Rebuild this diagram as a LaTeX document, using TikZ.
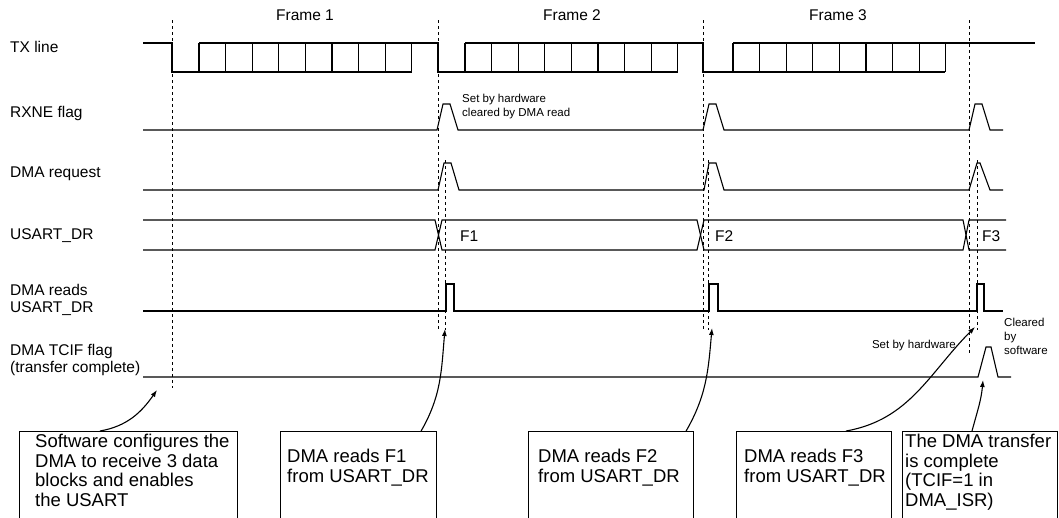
\documentclass[tikz,border=0pt]{standalone}
\usepackage{fontspec}
\setmainfont{Liberation Sans}
\usetikzlibrary{arrows.meta}
\tikzset{sig/.style={line width=1.1pt},
         edgeline/.style={dashed,line width=0.8pt},
         lbl/.style={anchor=west,inner sep=0pt,font=\fontsize{15.5}{17}\selectfont},
         note/.style={inner sep=0pt,font=\fontsize{11.5}{14}\selectfont,align=left},
         box/.style={draw,line width=1.1pt,anchor=north west},
         boxtxt/.style={anchor=north west,inner sep=0pt,align=left,font=\fontsize{18.5}{19.5}\selectfont},
         call/.style={-{Latex[length=7pt,width=5pt]},line width=1.1pt}}
\begin{document}
\begin{tikzpicture}[x=1pt,y=-1pt]
    \useasboundingbox (0,0) rectangle (1059,517);
    % frame titles
    \node[lbl,anchor=center] (f1) at (305,15) {Frame 1};
    \node[lbl,anchor=center] (f2) at (572,15) {Frame 2};
    \node[lbl,anchor=center] (f3) at (838,15) {Frame 3};
    % signal names
    \node[lbl] (tx) at (10,47) {TX line};
    \node[lbl] (rxne) at (10,113) {RXNE flag};
    \node[lbl] (req) at (10,174) {DMA request};
    \node[lbl] (dr) at (10,236) {USART\_DR};
    \node[lbl,align=left] (rd) at (10,300) {DMA reads\\USART\_DR};
    \node[lbl,align=left] (tcif) at (10,360) {DMA TCIF flag\\(transfer complete)};
    % dashed markers
    \draw[edgeline] (172,20) -- (172,388);
    \draw[edgeline] (438,20) -- (438,330);
    \draw[edgeline] (703,20) -- (703,330);
    \draw[edgeline] (969,20) -- (969,355);
    \draw[edgeline] (445,160) -- (445,330);
    \draw[edgeline] (708,160) -- (708,330);
    \draw[edgeline] (977,160) -- (977,330);
    % TX line
    \draw[sig] (143,43) -- (172,43) -- (172,72) -- (412,72);
    \draw[sig] (199,43) -- (438,43) -- (438,72) -- (678,72);
    \draw[sig] (465,43) -- (703,43) -- (703,72) -- (945,72);
    \draw[sig] (733,43) -- (1035,43);
    \foreach \s in {199,465,733}
      \foreach \i in {0,...,8}
        \draw[sig] (\s+26.6*\i,43) -- (\s+26.6*\i,72);
    % RXNE flag
    \draw[sig] (143,130) -- (437,130) -- (443,104) -- (450,104) -- (458,130)
      -- (703,130) -- (709,104) -- (716,104) -- (724,130)
      -- (969,130) -- (975,104) -- (982,104) -- (990,130) -- (1003,130);
    \node[note,anchor=west] (setclr) at (462,107) {Set by hardware\\cleared by DMA read};
    % DMA request
    \draw[sig] (143,190) -- (438,190) -- (444,163) -- (451,163) -- (459,190)
      -- (704,190) -- (709,163) -- (716,163) -- (724,190)
      -- (969,190) -- (977,163) -- (980,163) -- (990,190) -- (1003,190);
    % USART_DR
    \draw[sig] (143,220) -- (435,220) -- (442,250) -- (697,250) -- (704,220)
      -- (963,220) -- (969,250) -- (1006,250);
    \draw[sig] (143,250) -- (435,250) -- (442,220) -- (697,220) -- (704,250)
      -- (963,250) -- (969,220) -- (1006,220);
    \node[lbl] (d1) at (460,236) {F1};
    \node[lbl] (d2) at (715,236) {F2};
    \node[lbl] (d3) at (982,236) {F3};
    % DMA reads USART_DR
    \draw[sig] (143,311) -- (446,311) -- (446,284) -- (454,284) -- (454,311)
      -- (709,311) -- (709,284) -- (718,284) -- (718,311)
      -- (977,311) -- (977,284) -- (984,284) -- (984,311) -- (1003,311);
    \draw[line width=2.5pt] (446,284) -- (454,284) (709,284) -- (718,284) (977,284) -- (984,284);
    % DMA TCIF flag
    \draw[sig] (143,377) -- (978,377) -- (986,347) -- (991,347) -- (998,377) -- (1011,377);
    \node[note,anchor=east] (sethw) at (956,346) {Set by hardware};
    \node[note,anchor=north west] (clrsw) at (1004,318) {Cleared\\by\\software};
    % boxes
    \node[box,minimum width=218,minimum height=110] (b1) at (19,431) {};
    \node[box,minimum width=156,minimum height=110] (b2) at (280,431) {};
    \node[box,minimum width=165,minimum height=110] (b3) at (528,431) {};
    \node[box,minimum width=155,minimum height=110] (b4) at (736,431) {};
    \node[box,minimum width=155,minimum height=110] (b5) at (902,431) {};
    \node[boxtxt] (t1) at (35,434) {Software configures the\\DMA to receive 3 data\\blocks and enables\\the USART};
    \node[boxtxt] (t2) at (287,449) {DMA reads F1\\from USART\_DR};
    \node[boxtxt] (t3) at (538,449) {DMA reads F2\\from USART\_DR};
    \node[boxtxt] (t4) at (744,449) {DMA reads F3\\from USART\_DR};
    \node[boxtxt] (t5) at (905,434) {The DMA transfer\\is complete\\(TCIF=1 in\\DMA\_ISR)};
    % call-outs
    \coordinate (p1) at (157,390);
    \coordinate (p2) at (445,329);
    \coordinate (p3) at (712,328);
    \coordinate (p4) at (975,327);
    \coordinate (p5) at (983,380);
    \draw[call] ([xshift=81]b1.north west) to[out=10,in=235] (p1);
    \draw[call] ([xshift=-16]b2.north east) to[out=60,in=-95] (p2);
    \draw[call] ([xshift=-8]b3.north east) to[out=60,in=-95] (p3);
    \draw[call] ([xshift=110]b4.north west) to[out=10,in=225] (p4);
    \draw[call] ([xshift=70]b5.north west) to[out=75,in=-95] (p5);
\end{tikzpicture}
\end{document}
